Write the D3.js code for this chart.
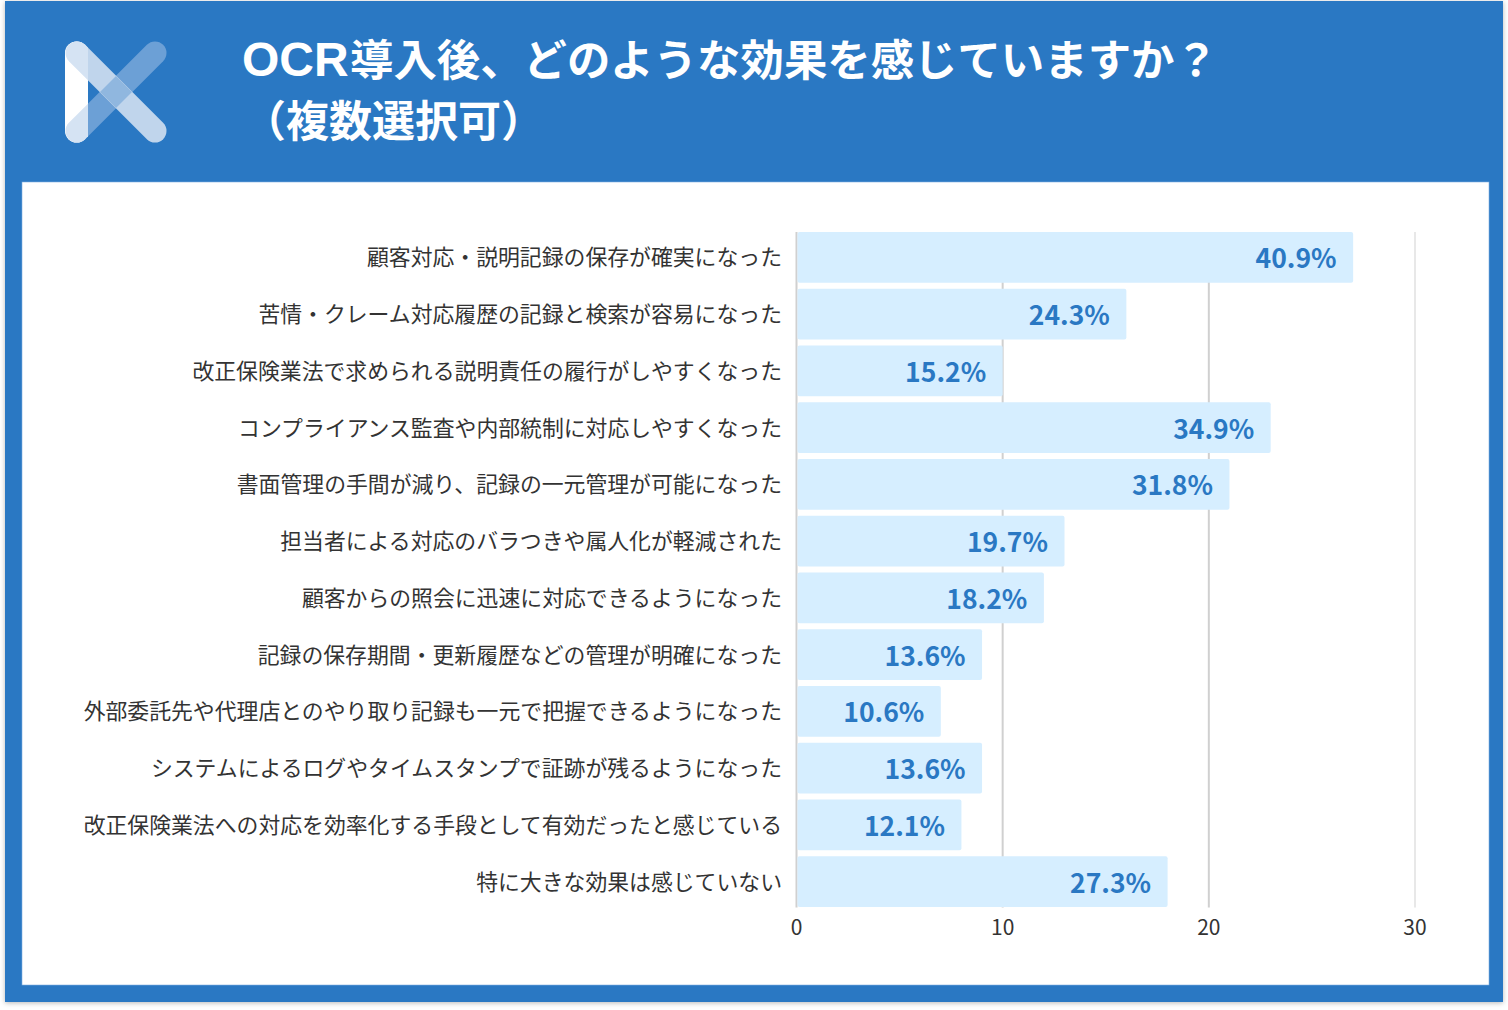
<!DOCTYPE html>
<html lang="ja">
<head>
<meta charset="utf-8">
<script src="https://cdn.jsdelivr.net/npm/d3@7"></script>
<style>
  html, body { margin: 0; padding: 0; background: #fff; }
  svg { display: block; }
  text { font-family: "Noto Sans CJK JP", "Noto Sans", sans-serif; }
</style>
</head>
<body>
<script>
const width = 1508, height = 1010;

const titleLatin = "OCR";
const titleFirst = "導入後、どのような効果を感じていますか？";
const titleSecond = "（複数選択可）";

const categories = [
    "顧客対応・説明記録の保存が確実になった",
    "苦情・クレーム対応履歴の記録と検索が容易になった",
    "改正保険業法で求められる説明責任の履行がしやすくなった",
    "コンプライアンス監査や内部統制に対応しやすくなった",
    "書面管理の手間が減り、記録の一元管理が可能になった",
    "担当者による対応のバラつきや属人化が軽減された",
    "顧客からの照会に迅速に対応できるようになった",
    "記録の保存期間・更新履歴などの管理が明確になった",
    "外部委託先や代理店とのやり取り記録も一元で把握できるようになった",
    "システムによるログやタイムスタンプで証跡が残るようになった",
    "改正保険業法への対応を効率化する手段として有効だったと感じている",
    "特に大きな効果は感じていない"
];
const counts = [27, 16, 10, 23, 21, 13, 12, 9, 7, 9, 8, 18];
const percentLabels = ["40.9%", "24.3%", "15.2%", "34.9%", "31.8%", "19.7%", "18.2%", "13.6%", "10.6%", "13.6%", "12.1%", "27.3%"];
const xTicks = [0, 10, 20, 30];

const blue = "#2a78c3";

const svg = d3.select("body").append("svg")
    .attr("width", width)
    .attr("height", height);

// panel with a soft shadow
const defs = svg.append("defs");
const shadow = defs.append("filter").attr("id", "panelShadow")
    .attr("x", "-2%").attr("y", "-2%").attr("width", "104%").attr("height", "104%");
shadow.append("feDropShadow")
    .attr("dx", 0).attr("dy", 1).attr("stdDeviation", 2.5)
    .attr("flood-color", "#000").attr("flood-opacity", 0.28);

svg.append("rect")
    .attr("x", 5).attr("y", 1).attr("width", 1498).attr("height", 1001)
    .attr("fill", blue)
    .attr("filter", "url(#panelShadow)");
svg.append("rect")
    .attr("x", 22).attr("y", 182).attr("width", 1467).attr("height", 803)
    .attr("fill", "#fff")
    .attr("stroke", "#7fb0e0").attr("stroke-width", 0.6);

// logo
defs.append("clipPath").attr("id", "logoLeft")
    .append("rect").attr("x", 60).attr("y", 35).attr("width", 28).attr("height", 115);
defs.append("clipPath").attr("id", "logoMid")
    .append("polygon").attr("points", "116,76 132,92 116,108 100,92");

const logo = svg.append("g").attr("fill", "none").attr("stroke-width", 23).attr("stroke-linecap", "round");
const diagDown = { x1: 77, y1: 53, x2: 155, y2: 131 };
const diagUp = { x1: 77, y1: 131, x2: 155, y2: 53 };
function logoLine(parent, d, color) {
    return parent.append("line")
        .attr("x1", d.x1).attr("y1", d.y1).attr("x2", d.x2).attr("y2", d.y2)
        .attr("stroke", color);
}
logoLine(logo, diagUp, "#6ca0d6");
logoLine(logo, diagDown, "#c0d5ec");
logoLine(logo, { x1: 76.5, y1: 53, x2: 76.5, y2: 131 }, "#fff");
const logoCaps = logo.append("g").attr("clip-path", "url(#logoLeft)");
logoLine(logoCaps, diagUp, "#d5e3f3");
logoLine(logoCaps, diagDown, "#d5e3f3");
logoLine(logo.append("g").attr("clip-path", "url(#logoMid)"), diagDown, "#90b7df");

// title, the latin part is set in a wider face than the japanese
const title = svg.append("g").attr("fill", "#fff").attr("font-weight", 700);
const firstLine = title.append("text").attr("y", 76).attr("font-size", 43.4);
firstLine.append("tspan")
    .attr("x", 242)
    .attr("font-family", '"Liberation Sans", sans-serif')
    .attr("font-size", 48)
    .text(titleLatin);
firstLine.append("tspan")
    .attr("x", 350)
    .text(titleFirst);
title.append("text")
    .attr("x", 243).attr("y", 137)
    .attr("font-size", 43)
    .text(titleSecond);

// scales
const x = d3.scaleLinear().domain([0, 30]).range([796.5, 1415]);
const y = d3.scaleBand().domain(categories).range([229, 910]).paddingInner(0.11).paddingOuter(0.055);

// grid
svg.append("g").selectAll("line")
    .data(xTicks)
    .enter().append("line")
    .attr("x1", d => x(d)).attr("x2", d => x(d))
    .attr("y1", 232).attr("y2", 907.5)
    .attr("stroke", d => d === 30 ? "#e8e8e8" : "#d0d0d0")
    .attr("stroke-width", 2);

// bars
svg.append("g").selectAll("rect")
    .data(counts)
    .enter().append("rect")
    .attr("x", x(0) + 1)
    .attr("y", (d, i) => y(categories[i]))
    .attr("width", d => x(d) - x(0) - 1)
    .attr("height", y.bandwidth())
    .attr("rx", 2)
    .attr("fill", "#d6eeff");

// value labels
svg.append("g").selectAll("text")
    .data(counts)
    .enter().append("text")
    .attr("x", d => x(d) - 16.5)
    .attr("y", (d, i) => y(categories[i]) + y.bandwidth() / 2 + 11)
    .attr("text-anchor", "end")
    .attr("fill", blue)
    .attr("font-size", 26.5)
    .attr("font-weight", 700)
    .text((d, i) => percentLabels[i]);

// category axis
const yAxis = svg.append("g")
    .attr("transform", "translate(782,1)")
    .call(d3.axisLeft(y).tickSize(0).tickPadding(0));
yAxis.select(".domain").remove();
yAxis.selectAll("text")
    .attr("font-family", '"Noto Sans CJK JP", sans-serif')
    .attr("font-size", 21.85)
    .attr("fill", "#333");

// value axis
const xAxis = svg.append("g")
    .attr("transform", "translate(-0.5,907)")
    .call(d3.axisBottom(x).tickValues(xTicks).tickSize(0).tickPadding(13));
xAxis.select(".domain").remove();
xAxis.selectAll("text")
    .attr("font-family", '"Noto Sans CJK JP", sans-serif')
    .attr("font-size", 21)
    .attr("fill", "#333");
</script>
</body>
</html>
